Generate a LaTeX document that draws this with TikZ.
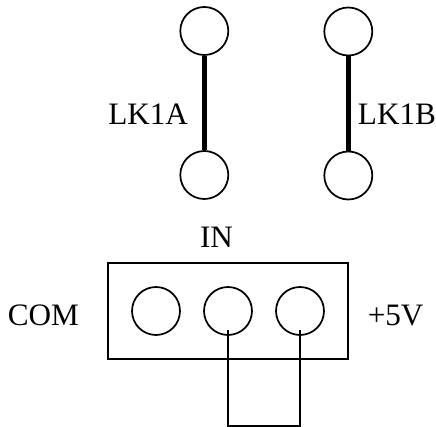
\documentclass[tikz,border=0pt]{standalone}
\usepackage{fontspec}
\setmainfont{Liberation Serif}
\tikzset{
  pin/.style={draw,circle,line width=1.3pt,minimum size=36pt,inner sep=0pt},
  link/.style={line width=4pt},
  wire/.style={line width=1.3pt},
  lbl/.style={anchor=base west,inner sep=0pt,font=\fontsize{23.4}{28}\selectfont},
}
\begin{document}
\begin{tikzpicture}[x=0.75pt,y=0.75pt,yscale=-1,xscale=1]
\useasboundingbox (0,0) rectangle (436,427);

%Links
\node [pin] (lk1atop) at (204.3,31) {};
\node [pin] (lk1abot) at (204.3,175) {};
\node [pin] (lk1btop) at (348.3,31.5) {};
\node [pin] (lk1bbot) at (348.3,175.5) {};
\draw [link] (lk1atop) -- (lk1abot);
\draw [link] (lk1btop) -- (lk1bbot);

%Connector body
\node [draw,line width=1.3pt,minimum width=180.5pt,minimum height=71.5pt,inner sep=0pt] (body) at (228,311) {};
\node [pin] (com) at (156,311) {};
\node [pin] (in) at (228,311) {};
\node [pin] (five) at (300,311) {};

%Wire loop
\coordinate (intap) at (228,330);
\coordinate (fivetap) at (300,330);
\coordinate (inend) at (228,425.7);
\coordinate (fiveend) at (300,425.7);
\draw [wire] (intap) -- (inend) -- (fiveend) -- (fivetap);

% Text Node
\node [lbl] (lk1alabel) at (108,125) {LK1A};
% Text Node
\node [lbl] (lk1blabel) at (357.7,125) {LK1B};
% Text Node
\node [lbl] (inlabel) at (199.8,247.3) {IN};
% Text Node
\node [lbl] (comlabel) at (7.5,326) {COM};
% Text Node
\node [lbl] (fivelabel) at (367.5,326) {+5V};

\end{tikzpicture}
\end{document}
